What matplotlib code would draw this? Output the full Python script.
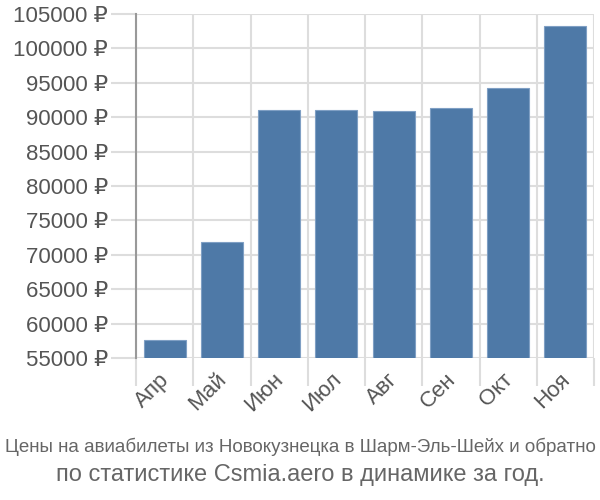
import numpy as np
import matplotlib.pyplot as plt
import matplotlib.transforms as mtransforms
from matplotlib.ticker import FuncFormatter

months = ['Апр', 'Май', 'Июн', 'Июл', 'Авг', 'Сен', 'Окт', 'Ноя']
prices = [57600, 71800, 91000, 91000, 90900, 91300, 94200, 103300]
yticks = [55000, 60000, 65000, 70000, 75000, 80000, 85000, 90000, 95000, 100000, 105000]

plt.rcParams['font.family'] = ['Liberation Sans', 'DejaVu Sans']

fig = plt.figure(figsize=(6, 5), dpi=100)
ax = fig.add_axes([136 / 600, (500 - 358) / 500, (594 - 136) / 600, 344 / 500])

x = np.arange(len(months))
ax.bar(x, prices, width=0.73, color='#4e79a7', edgecolor='#7f9fc4', linewidth=0.8, zorder=3)

ax.set_xlim(-0.5, len(months) - 0.5)
ax.set_ylim(55000, 105000)

ax.set_yticks(yticks)
ax.yaxis.set_major_formatter(FuncFormatter(lambda v, p: '{:d} ₽'.format(int(v))))
ax.tick_params(axis='y', length=18, color='#dddddd', width=1.5, labelsize=16,
               labelcolor='#555555', pad=2)
ax.grid(True, axis='y', color='#dddddd', linewidth=1.5, zorder=0)

# month labels on the bar centres, grid between bars
ax.set_xticks(x)
ax.set_xticklabels(months, rotation=45, ha='right', rotation_mode='anchor')
ax.tick_params(axis='x', which='major', length=0, labelsize=16, labelcolor='#555555', pad=8)
shift = mtransforms.ScaledTranslation(-6 / 100, 0, fig.dpi_scale_trans)
for lab in ax.get_xticklabels():
    lab.set_transform(lab.get_transform() + shift)
ax.set_xticks(np.arange(-0.5, len(months)), minor=True)
ax.tick_params(axis='x', which='minor', length=20, color='#dddddd', width=1.5)
ax.grid(True, axis='x', which='minor', color='#dddddd', linewidth=1.5, zorder=0)
ax.xaxis.get_minor_ticks()[0].tick1line.set_color('#999999')

for s in ['top', 'right', 'bottom']:
    ax.spines[s].set_visible(False)
ax.spines['left'].set_color('#999999')
ax.spines['left'].set_linewidth(1.5)

fig.text(0.5, 1 - 447 / 500, 'Цены на авиабилеты из Новокузнецка в Шарм-Эль-Шейх и обратно',
         ha='center', va='center', fontsize=13.5, color='#666666')
fig.text(0.5, 1 - 475 / 500, 'по статистике Csmia.aero в динамике за год.',
         ha='center', va='center', fontsize=17, color='#666666')

fig.savefig('out.png', dpi=100)
